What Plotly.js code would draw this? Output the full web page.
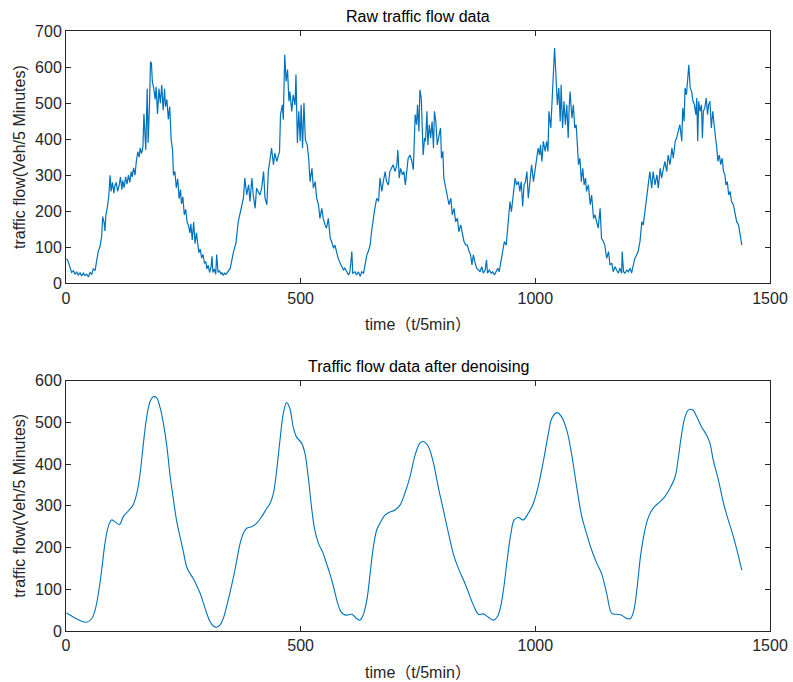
<!DOCTYPE html>
<html>
<head>
<meta charset="utf-8">
<script src="https://cdn.plot.ly/plotly-3.0.1.min.js"></script>
<style>html,body{margin:0;padding:0;background:#fff;}#chart{width:793px;height:682px;}</style>
</head>
<body>
<div id="chart"></div>
<script>
// Raw traffic flow (time step, vehicles / 5 min)
const rawTime = [1,3,6,9,12,16,19,23,26,30,33,37,40,44,48,51,55,58,62,65,69,72,76,78,81,83,85,88,91,94,96,99,102,104,107,110,113,116,119,121,124,127,130,133,136,139,141,144,147,150,153,156,158,161,164,166,168,170,173,175,178,180,182,184,187,190,192,195,198,201,204,207,210,212,215,218,221,224,227,229,232,235,238,241,244,246,249,252,255,258,261,264,266,269,272,275,278,281,283,286,289,292,295,298,300,303,306,309,311,313,316,319,321,324,327,330,332,335,338,341,344,347,
350,357,362,367,372,378,381,385,389,392,396,399,403,406,413,417,421,424,428,431,435,438,442,445,449,455,457,461,463,466,469,472,475,477,481,484,488,490,493,496,499,501,504,507,510,514,517,520,524,527,531,534,538,541,545,548,552,555,559,563,566,570,573,577,580,584,587,591,594,598,602,605,609,611,616,619,623,627,630,634,637,641,644,648,651,655,658,662,666,669,673,676,680,683,687,690,694,697,701,705,707,710,713,717,720,723,726,729,
733,737,740,742,744,747,749,752,754,757,759,761,764,766,769,771,774,777,780,783,785,788,791,795,798,800,803,805,809,812,816,820,823,827,830,834,837,841,844,848,852,855,859,862,865,868,871,875,879,882,886,889,893,896,898,902,906,909,913,916,920,923,927,930,934,938,941,943,946,949,952,955,957,960,964,967,970,973,976,979,982,985,989,992,996,999,1003,1006,1009,1011,1014,1017,1021,1024,1027,1029,1033,1036,1038,1041,1044,1047,1050,1053,1055,1058,1061,1064,1067,1070,1072,
1074,1078,1081,1084,1087,1090,1092,1095,1098,1101,1104,1107,1109,1113,1117,1120,1124,1127,1131,1134,1138,1141,1145,1148,1152,1156,1159,1163,1166,1170,1173,1177,1180,1184,1185,1188,1191,1195,1198,1202,1205,1209,1212,1216,1219,1223,1227,1230,1234,1237,1241,1244,1248,1251,1255,1259,1262,1266,1269,1273,1276,1280,1283,1287,1291,1294,1298,1301,1305,1308,1312,1314,1317,1319,1322,1325,1327,1330,1333,1336,1339,1342,1344,1346,1348,1351,1354,1356,1358,1361,1364,1367,1369,1372,1375,1378,1381,1384,1386,1389,1392,1395,1398,1401,1404,1406,1409,1412,1415,1418,1422,1425,1429,1433,1436,1440];
const rawFlow = [68,65,55,40,30,35,25,32,22,30,20,28,22,25,18,30,25,40,35,60,90,100,130,185,170,145,190,210,240,300,255,280,250,270,280,255,270,295,260,285,265,295,275,300,280,310,295,320,300,340,365,350,375,360,380,470,410,370,540,390,500,615,610,560,540,510,545,470,540,500,550,480,540,490,510,455,490,400,370,300,310,265,290,235,260,220,240,190,205,170,160,140,165,120,170,110,140,100,85,95,70,80,55,60,40,50,30,45,75,30,40,25,80,30,35,25,30,22,28,25,30,35,
42,88,111,171,199,236,292,245,273,227,292,245,208,264,245,264,310,236,218,310,347,375,329,361,338,366,468,495,454,634,560,593,505,532,477,523,495,579,389,477,394,495,375,500,398,384,347,282,319,264,282,236,218,180,208,180,162,153,180,125,116,97,106,79,69,56,46,37,42,32,23,32,88,28,32,23,32,19,32,28,51,79,88,106,143,190,208,236,227,292,255,282,310,282,273,310,319,329,310,329,370,292,319,301,310,273,310,347,
356,338,315,394,468,440,495,421,537,514,431,356,403,394,477,384,440,403,449,375,477,449,384,412,431,347,366,292,264,236,218,236,190,208,171,180,143,162,143,116,106,106,88,79,51,79,60,42,37,32,46,28,37,65,28,37,28,32,23,32,42,32,60,79,116,106,153,171,227,199,236,255,292,273,282,255,282,213,273,282,310,236,292,329,282,310,338,375,356,384,338,394,366,394,366,477,431,532,551,653,574,495,542,449,551,431,505,440,495,403,486,
532,458,495,431,440,375,329,347,282,319,273,292,255,273,218,245,180,190,171,153,208,125,116,106,69,88,51,56,32,46,37,28,42,28,88,32,28,37,32,42,28,51,69,79,88,116,171,162,208,245,282,310,264,310,273,301,264,319,292,319,338,310,356,329,375,347,394,403,421,440,394,486,449,542,523,579,606,542,532,505,495,468,514,394,505,477,495,403,477,486,514,468,495,505,431,477,431,403,384,338,356,329,347,310,301,273,282,245,255,227,218,199,171,162,134,106];

// Denoised traffic flow
const denoisedTime = [1,3,16,30,44,55,62,69,76,83,90,97,104,114,122,133,143,151,158,165,172,179,186,193,200,207,215,222,229,236,243,250,257,264,271,278,286,293,300,307,314,321,328,335,342,349,357,364,371,378,385,396,406,417,428,435,442,449,456,463,470,477,484,491,502,509,516,523,530,538,548,555,562,570,577,584,591,598,609,619,626,633,641,648,655,662,669,680,690,701,712,722,733,744,754,761,772,783,793,804,815,825,836,847,857,868,879,889,900,911,919,926,933,940,948,955,964,974,985,996,1006,1017,1028,1035,1046,1056,1067,1077,1088,1099,1109,1120,1131,1141,1152,1163,1173,1184,1195,1203,1210,1217,1224,1232,1239,1246,1255,1266,1276,1287,1298,1305,1312,1319,1326,1335,1344,1354,1365,1372,1379,1390,1401,1411,1422,1433,1440];
const denoisedFlow = [43,42,33,25,21,30,50,90,146,210,250,266,262,255,274,288,302,330,378,450,513,549,561,559,537,501,441,370,314,262,226,190,154,138,126,110,90,66,42,22,12,9,14,30,58,90,130,170,210,234,246,250,258,274,294,306,330,386,458,521,547,533,489,465,450,426,370,298,242,210,186,162,138,106,74,50,40,38,40,30,26,38,74,138,202,242,258,278,285,290,302,330,370,422,450,454,442,402,346,290,234,186,150,122,94,62,40,41,33,26,34,58,106,170,234,266,272,266,282,306,346,406,474,509,523,513,481,426,346,274,234,194,162,138,90,42,40,38,30,30,50,106,178,234,266,285,299,310,322,342,370,418,474,513,529,530,513,489,469,450,410,362,306,266,226,178,146];

const xTicks = [0, 500, 1000, 1500];
const topTitle = 'Raw traffic flow data';
const bottomTitle = 'Traffic flow data after denoising';
const xLabel = 'time（t/5min）';
const yLabel = 'traffic flow(Veh/5 Minutes)';

const FONT = 'Liberation Sans, Arial, Helvetica, Noto Sans CJK SC, sans-serif';
const TXT = '#262626';
const FS = 16;

const axisCommon = {
  showline: true, linecolor: TXT, linewidth: 1, mirror: 'ticks',
  ticks: 'inside', ticklen: 5, tickcolor: TXT, tickwidth: 1,
  showgrid: false, zeroline: false,
  tickfont: {family: FONT, size: FS, color: TXT},
  fixedrange: true
};

const traces = [
  {x: rawTime, y: rawFlow, type: 'scatter', mode: 'lines', xaxis: 'x', yaxis: 'y',
   line: {color: '#0072BD', width: 1.2}, showlegend: false},
  {x: denoisedTime, y: denoisedFlow, type: 'scatter', mode: 'lines', xaxis: 'x2', yaxis: 'y2',
   line: {color: '#0072BD', width: 1.1, shape: 'spline', smoothing: 1}, showlegend: false}
];

const layout = {
  width: 793, height: 682,
  margin: {l: 66, r: 23, t: 31, b: 51},
  paper_bgcolor: '#fff', plot_bgcolor: '#fff',
  font: {family: FONT, size: FS, color: TXT},
  xaxis: Object.assign({}, axisCommon, {domain: [0, 1], anchor: 'y', range: [0, 1500], tickvals: xTicks,
    title: {text: xLabel, font: {family: FONT, size: FS, color: TXT}, standoff: 13}}),
  yaxis: Object.assign({}, axisCommon, {domain: [0.5795, 1], anchor: 'x', range: [0, 700], dtick: 100,
    title: {text: yLabel, font: {family: FONT, size: FS, color: TXT}, standoff: 5}}),
  xaxis2: Object.assign({}, axisCommon, {domain: [0, 1], anchor: 'y2', range: [0, 1500], tickvals: xTicks,
    title: {text: xLabel, font: {family: FONT, size: FS, color: TXT}, standoff: 13}}),
  yaxis2: Object.assign({}, axisCommon, {domain: [0, 0.4175], anchor: 'x2', range: [0, 600], dtick: 100,
    title: {text: yLabel, font: {family: FONT, size: FS, color: TXT}, standoff: 5}}),
  annotations: [
    {text: topTitle, xref: 'paper', yref: 'paper', x: 0.5, y: 1, yshift: 4, xanchor: 'center', yanchor: 'bottom',
     showarrow: false, font: {family: FONT, size: FS, color: '#000'}},
    {text: bottomTitle, xref: 'paper', yref: 'paper', x: 0.5, y: 0.4175, yshift: 4, xanchor: 'center', yanchor: 'bottom',
     showarrow: false, font: {family: FONT, size: FS, color: '#000'}}
  ]
};

Plotly.newPlot('chart', traces, layout, {displayModeBar: false, staticPlot: true});
</script>
</body>
</html>
